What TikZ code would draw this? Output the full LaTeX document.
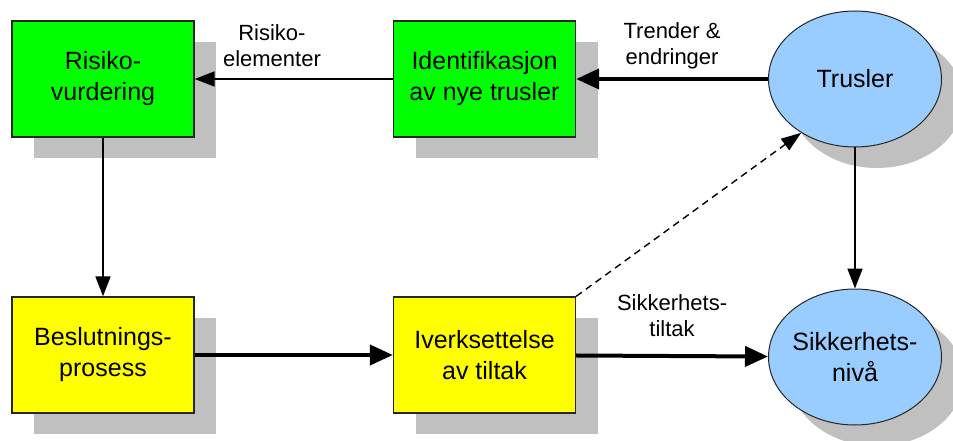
\documentclass[tikz,border=0pt]{standalone}
\usepackage{fontspec}
\setmainfont{Liberation Sans}
\usetikzlibrary{arrows.meta,shapes.geometric,shadows}
\definecolor{riskgreen}{RGB}{0,255,0}
\definecolor{actyellow}{RGB}{255,255,0}
\definecolor{ovalblue}{RGB}{153,204,255}
\definecolor{shadegray}{RGB}{192,192,192}
\tikzset{
    box/.style =    {rectangle,
                    draw=black!85,
                    text=black,
                    line width=1.3pt,
                    align=center,
                    minimum width=182pt,
                    minimum height=116pt,
                    font=\fontsize{25}{31}\selectfont,
                    drop shadow={opacity=1,fill=shadegray,shadow xshift=22pt,shadow yshift=-21pt}},
    riskbox/.style = {box,
                    fill=riskgreen},
    actbox/.style = {box,
                    fill=actyellow},
    oval/.style =   {ellipse,
                    draw=black!85,
                    fill=ovalblue,
                    text=black,
                    line width=1pt,
                    align=center,
                    inner xsep=-20pt,
                    minimum width=173pt,
                    minimum height=136pt,
                    font=\fontsize{25}{31}\selectfont,
                    drop shadow={opacity=1,fill=shadegray,shadow xshift=22pt,shadow yshift=-21pt}},
    tag/.style =    {align=center,
                    inner sep=0pt,
                    text=black,
                    font=\fontsize{22}{26}\selectfont},
    thinline/.style = {line width=1.8pt,
                    -{Triangle[length=20pt,width=15pt]}},
    thickline/.style = {line width=4pt,
                    -{Triangle[length=23pt,width=20pt]}},
    dashline/.style = {line width=1.4pt,
                    dash pattern=on 7pt off 5pt,
                    -{Triangle[length=20pt,width=14pt]}}}

\begin{document}
\begin{tikzpicture}[x=1pt,y=1pt]
                \useasboundingbox (0,0) rectangle (953,-441);
                \node[riskbox]      (R) at (103,-79)                                {Risiko-\\vurdering};
                \node[riskbox]      (I) [right of=R,node distance=381.5pt]          {Identifikasjon\\av nye trusler};
                \node[oval]         (T) [right of=I,node distance=370.5pt]          {Trusler};
                \node[actbox]       (B) [below of=R,node distance=276pt]            {Beslutnings-\\prosess};
                \node[actbox]       (V) [below of=I,node distance=276pt]            {Iverksettelse\\av tiltak};
                \node[oval]         (S) [below of=T,node distance=278pt]            {Sikkerhets-\\niv\aa};

                \path [draw=black]      (I) edge [thinline]     node [tag,pos=0.61,above=11pt] {Risiko-\\elementer} (R)
                                        (T) edge [thickline]    node [tag,midway,above=8pt] {Trender \&\\endringer} (I)
                                        (R) edge [thinline]     node [] {} (B)
                                        (B) edge [thickline]    node [] {} (V)
                                        (V) edge [thickline]    node [tag,midway,above=17pt] {Sikkerhets-\\tiltak} (S)
                                        (T) edge [thinline]     node [] {} (S)
                                        (V.north east) edge [dashline] node [] {} (T.225);
        \end{tikzpicture}
\end{document}
